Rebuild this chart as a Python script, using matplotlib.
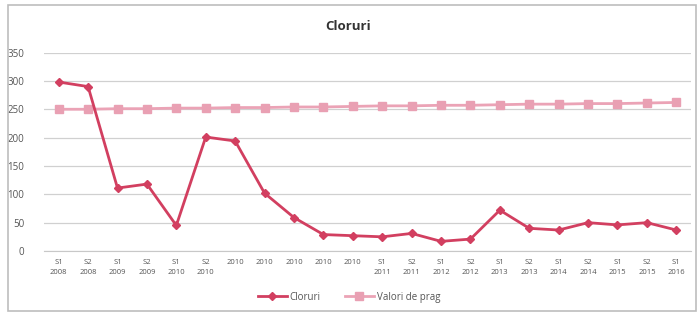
import matplotlib
matplotlib.use("Agg")
import matplotlib.pyplot as plt
from matplotlib.patches import Rectangle

categories = ["S1\n2008", "S2\n2008", "S1\n2009", "S2\n2009", "S1\n2010", "S2\n2010",
              "2010", "2010", "2010", "2010", "2010",
              "S1\n2011", "S2\n2011", "S1\n2012", "S2\n2012", "S1\n2013", "S2\n2013",
              "S1\n2014", "S2\n2014", "S1\n2015", "S2\n2015", "S1\n2016"]
cloruri = [298, 290, 111, 118, 45, 201, 194, 102, 59, 29, 27,
           25, 31, 17, 21, 72, 40, 37, 50, 46, 50, 37]
valori_prag = [250, 250, 251, 251, 252, 252, 253, 253, 254, 254, 255,
               256, 256, 257, 257, 258, 259, 259, 260, 260, 261, 262]
y_ticks = [0, 50, 100, 150, 200, 250, 300, 350]

plt.rcParams['font.family'] = ['Open Sans', 'DejaVu Sans']

fig = plt.figure(figsize=(6.98, 3.16), dpi=100)
fig.patch.set_facecolor('white')
ax = fig.add_axes([0.063, 0.2057, 0.927, 0.628])

x = list(range(len(categories)))
ax.plot(x, valori_prag, color='#EBA3B6', lw=2.0, marker='s', markersize=6,
        markerfacecolor='#E9A0B3', markeredgecolor='#E9A0B3', label='Valori de prag', zorder=3)
ax.plot(x, cloruri, color='#D23F60', lw=2.0, marker='D', markersize=4.5,
        markerfacecolor='#D23F60', markeredgecolor='#D23F60', label='Cloruri', zorder=4)

ax.set_xlim(-0.5, len(categories) - 0.5)
ax.set_ylim(0, 350)
ax.set_yticks(y_ticks)
ax.set_xticks(x)
ax.set_xticklabels(categories, fontsize=5.5, color='#555555', linespacing=1.5)
ax.tick_params(axis='y', labelsize=7, colors='#555555', length=0, pad=14)
ax.tick_params(axis='x', length=0, pad=6)
ax.grid(axis='y', color='#D0D0D0', lw=0.9)
ax.set_axisbelow(True)
for s in ['top', 'right', 'left']:
    ax.spines[s].set_visible(False)
ax.spines['bottom'].set_color('#C8C8C8')

fig.text(0.499, 0.915, 'Cloruri', ha='center', va='center', fontsize=9.5,
         fontweight='bold', color='#333333')

h, l = ax.get_legend_handles_labels()
fig.legend([h[1], h[0]], [l[1], l[0]], loc='center', bbox_to_anchor=(0.5, 0.06),
           ncol=2, frameon=False, fontsize=7, handlelength=3, columnspacing=2.5,
           handletextpad=0.3, labelcolor='#555555')

fig.add_artist(Rectangle((8 / 698, 1 - 311 / 316), 688 / 698, 306 / 316,
                         transform=fig.transFigure, fill=False,
                         edgecolor='#BDBDBD', lw=1.2))

fig.savefig('out.png', dpi=100)
